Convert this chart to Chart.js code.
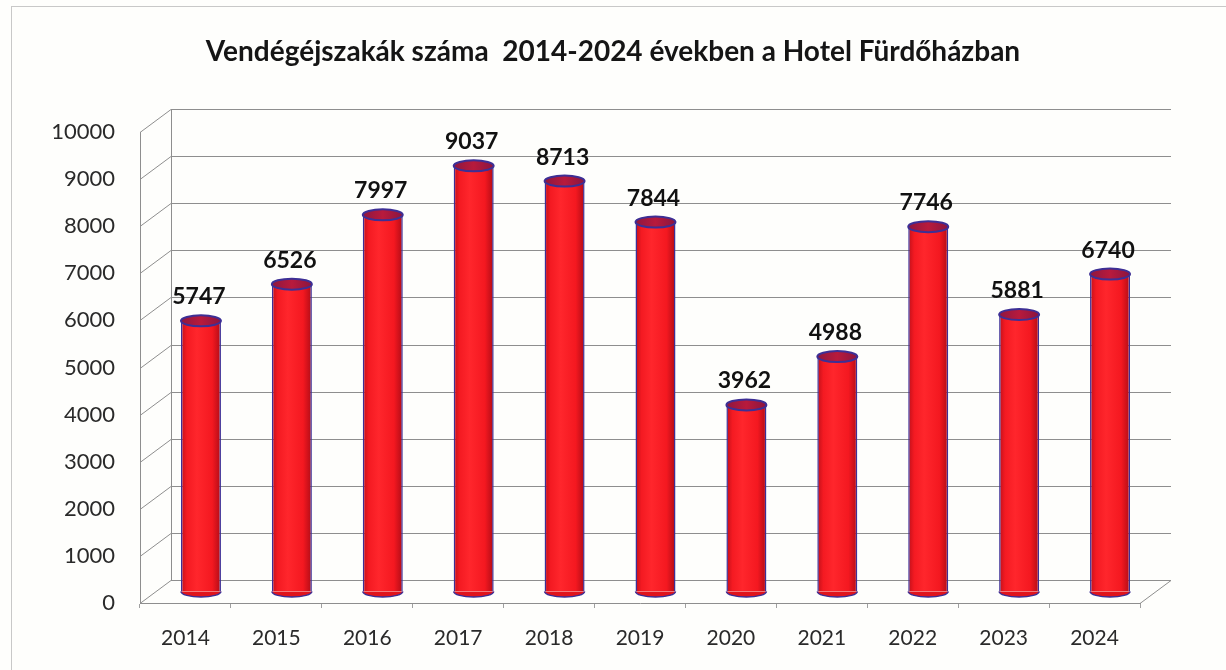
<!DOCTYPE html>
<html>
<head>
<meta charset="utf-8">
<script src="https://cdn.jsdelivr.net/npm/chart.js@4/dist/chart.umd.min.js"></script>
<style>
  html, body { margin:0; padding:0; background:#fefefc; }
  #wrap { position:relative; width:1226px; height:670px; overflow:hidden; }
  #frame { position:absolute; left:11px; top:6px; right:-10px; bottom:-10px; border:1px solid #c8c8c8; }
</style>
</head>
<body>
<div id="wrap">
  <div id="frame"></div>
  <canvas id="chart" width="1226" height="670"></canvas>
</div>
<script>
const years  = ['2014','2015','2016','2017','2018','2019','2020','2021','2022','2023','2024'];
const nights = [5747, 6526, 7997, 9037, 8713, 7844, 3962, 4988, 7746, 5881, 6740];
const yTicks = [0,1000,2000,3000,4000,5000,6000,7000,8000,9000,10000];
const title  = 'Vendégéjszakák száma  2014-2024 években a Hotel Fürdőházban';

Chart.defaults.font.family = 'Lato, "Open Sans", sans-serif';
Chart.defaults.color = '#2a2a2a';

const DX = 31, DY = -23;      // depth of the 3d box
const RY = 5.5;               // cylinder ellipse half height
const rim = '#3d2f95';

function bodyFill(ctx) {
  const chart = ctx.chart;
  const xs = chart.scales.x;
  if (!xs || !chart.chartArea) return '#f5161e';
  const c = xs.getPixelForValue(ctx.dataIndex);
  const w = (xs.width / years.length) * 0.44;
  const g = chart.ctx.createLinearGradient(c - w/2, 0, c + w/2, 0);
  g.addColorStop(0, '#c0101a');
  g.addColorStop(0.15, '#f41a22');
  g.addColorStop(0.4, '#ff262c');
  g.addColorStop(0.78, '#f41820');
  g.addColorStop(1, '#b00c16');
  return g;
}

const box3d = {
  id: 'box3d',
  beforeDatasetsDraw(chart) {
    const {ctx, chartArea:a, scales:{y}} = chart;
    ctx.save();
    ctx.strokeStyle = '#8e8e8e';
    ctx.lineWidth = 1;
    ctx.beginPath();
    yTicks.forEach(v => {
      const py = Math.round(y.getPixelForValue(v)) + 0.5;
      ctx.moveTo(a.left, py);
      ctx.lineTo(a.left + DX, py + DY);
      ctx.lineTo(a.right + DX, py + DY);
    });
    const by = Math.round(y.getPixelForValue(0)) + 0.5;
    ctx.moveTo(a.right, by);
    ctx.lineTo(a.right + DX, by + DY);
    ctx.moveTo(a.left + DX + 0.5, Math.round(y.getPixelForValue(10000)) + DY);
    ctx.lineTo(a.left + DX + 0.5, by + DY);
    ctx.stroke();
    ctx.restore();

    ctx.save();
    ctx.translate(DX/2, DY/2);
    // bottom caps go under the bodies
    chart.getDatasetMeta(0).data.forEach(bar => {
      const w = bar.width;
      ctx.beginPath();
      ctx.ellipse(bar.x, bar.base, w/2, RY, 0, 0, Math.PI);
      ctx.fillStyle = '#e0141c';
      ctx.fill();
      ctx.strokeStyle = rim;
      ctx.lineWidth = 1.5;
      ctx.stroke();
    });
  },
  afterDatasetsDraw(chart) {
    const {ctx} = chart;
    const meta = chart.getDatasetMeta(0);
    meta.data.forEach((bar, i) => {
      const w = bar.width;
      ctx.beginPath();
      ctx.ellipse(bar.x, bar.y, w/2, RY, 0, 0, Math.PI*2);
      const g = ctx.createLinearGradient(bar.x - w/2, 0, bar.x + w/2, 0);
      g.addColorStop(0, '#8e1740');
      g.addColorStop(0.5, '#b81a3c');
      g.addColorStop(1, '#8a1540');
      ctx.fillStyle = g;
      ctx.fill();
      ctx.strokeStyle = rim;
      ctx.lineWidth = 2;
      ctx.stroke();

      ctx.fillStyle = '#111';
      ctx.font = 'bold 23px Lato, "Open Sans", sans-serif';
      ctx.textAlign = 'center';
      ctx.textBaseline = 'alphabetic';
      ctx.fillText(String(nights[i]), bar.x - 2, bar.y - RY - 11);
    });
    ctx.restore();
  }
};

new Chart(document.getElementById('chart'), {
  type: 'bar',
  data: {
    labels: years,
    datasets: [{
      data: nights,
      backgroundColor: bodyFill,
      borderColor: rim,
      borderWidth: {left:1.5, right:1.5, top:0, bottom:0},
      borderSkipped: false,
      barPercentage: 0.44,
      categoryPercentage: 1
    }]
  },
  options: {
    responsive: false,
    animation: false,
    layout: { padding: 0 },
    plugins: {
      legend: { display: false },
      tooltip: { enabled: false },
      title: {
        display: true,
        text: title,
        color: '#151515',
        font: { size: 28, weight: 'bold', lineHeight: 1.2 },
        padding: { top: 35, bottom: 63.4 }
      }
    },
    scales: {
      x: {
        afterFit: s => { s.height = 67; },
        grid: { display: true, drawOnChartArea: false, tickLength: 5, color: '#a0a0a0' },
        border: { display: true, color: '#8e8e8e' },
        ticks: { padding: 18, font: { size: 21 }, color: '#2a2a2a' }
      },
      y: {
        min: 0, max: 10000,
        afterFit: s => { s.width = 140; },
        afterBuildTicks: s => { s.ticks = yTicks.map(v => ({value: v})); },
        grid: { display: false, drawTicks: false },
        border: { display: true, color: '#8e8e8e' },
        ticks: { padding: 25, font: { size: 22 }, color: '#2a2a2a', callback: v => String(v) }
      },
      // empty axis that keeps the room right of the box
      yRight: {
        position: 'right',
        display: true,
        afterFit: s => { s.width = 86; },
        grid: { display: false, drawTicks: false },
        border: { display: false },
        ticks: { display: false }
      }
    }
  },
  plugins: [box3d]
});
</script>
</body>
</html>
